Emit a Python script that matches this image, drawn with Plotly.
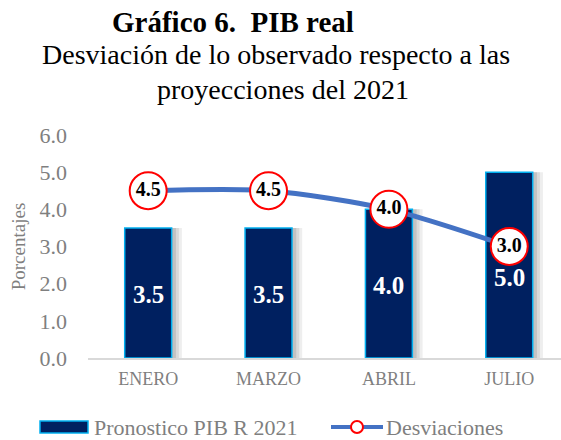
import plotly.graph_objects as go

categories = ["ENERO", "MARZO", "ABRIL", "JULIO"]
pronostico = [3.5, 3.5, 4.0, 5.0]
desviaciones = [4.5, 4.5, 4.0, 3.0]
y_ticks = [0, 1, 2, 3, 4, 5, 6]

FONT = "Liberation Serif, Times New Roman, serif"
GREY = "#7f7f7f"
NAVY = "#002060"
CYAN = "#00B0F0"
BLUE = "#4472C4"

W, H = 561, 440
L, R, T, B = 88, 0, 135, 440 - 358
pw, ph = W - L - R, H - T - B


def px(x):
    return (x - L) / pw


def py(y):
    return (H - B - y) / ph


BW = 0.39
fig = go.Figure()
# soft shadow to the right of each bar
for dx, alpha in [(0.085, 0.10), (0.06, 0.14), (0.035, 0.18)]:
    fig.add_trace(go.Bar(
        x=categories, y=pronostico, width=BW, offset=-BW / 2 + dx,
        marker=dict(color=f"rgba(90,90,90,{alpha})", line=dict(width=0)),
        hoverinfo="skip", showlegend=False,
    ))
fig.add_trace(go.Bar(
    x=categories, y=pronostico, name="Pronostico PIB R 2021",
    width=BW, offset=-BW / 2,
    marker=dict(color=NAVY, line=dict(color=CYAN, width=1.5)),
    showlegend=False,
))
fig.add_trace(go.Scatter(
    x=categories, y=desviaciones, name="Desviaciones",
    mode="lines+markers+text",
    line=dict(color=BLUE, width=5, shape="spline", smoothing=0.8),
    marker=dict(size=37, color="white", line=dict(color="#FF0000", width=2)),
    text=[f"{v:.1f}" for v in desviaciones], textposition="middle center",
    textfont=dict(family=FONT, size=20, color="black", weight="bold"),
    showlegend=False,
))

annotations = []
# bar value labels, centred in each bar (the last nudged below the marker)
for i, (c, v) in enumerate(zip(categories, pronostico)):
    annotations.append(dict(
        text=f"<b>{v:.1f}</b>", x=c, y=v / 2, xref="x", yref="y",
        xanchor="center", yanchor="middle", showarrow=False,
        yshift=-12 if i == len(categories) - 1 else -2,
        font=dict(family=FONT, size=25, color="white"),
    ))

page_ann = [
    dict(text="<b>Gráfico 6.&nbsp; PIB real</b>", x=px(233), y=py(22),
         font=dict(family=FONT, size=29, color="black")),
    dict(text="Desviación de lo observado respecto a las", x=px(276), y=py(54),
         font=dict(family=FONT, size=28, color="black")),
    dict(text="proyecciones del 2021", x=px(283), y=py(89),
         font=dict(family=FONT, size=28, color="black")),
    dict(text="Pronostico PIB R 2021", x=px(92), y=py(427), xanchor="left",
         font=dict(family=FONT, size=22, color=GREY)),
    dict(text="Desviaciones", x=px(384), y=py(427), xanchor="left",
         font=dict(family=FONT, size=22, color=GREY)),
]
for a in page_ann:
    a.setdefault("xanchor", "center")
    a["yanchor"] = "middle"
    a["xref"] = "paper"
    a["yref"] = "paper"
    a["showarrow"] = False
annotations += page_ann

shapes = [
    dict(type="rect", x0=px(40), x1=px(88), y0=py(433), y1=py(421),
         fillcolor=NAVY, line=dict(color=CYAN, width=1.5)),
    dict(type="line", x0=px(331), x1=px(383), y0=py(427), y1=py(427),
         line=dict(color=BLUE, width=4)),
    dict(type="circle", x0=px(351), x1=px(363), y0=py(433), y1=py(421),
         fillcolor="white", line=dict(color="#FF0000", width=2)),
]
for s in shapes:
    s["xref"] = "paper"
    s["yref"] = "paper"

fig.update_layout(
    width=W, height=H,
    margin=dict(l=L, r=R, t=T, b=B, autoexpand=False),
    paper_bgcolor="white", plot_bgcolor="white",
    font=dict(family=FONT, color=GREY),
    showlegend=False, barmode="overlay",
    annotations=annotations,
    shapes=shapes,
)

fig.update_xaxes(
    range=[-0.5, 3.43], showgrid=False, showline=True, linecolor="#d9d9d9", linewidth=1.5,
    tickfont=dict(family=FONT, size=18, color=GREY), ticks="", ticklabelstandoff=4,
)
fig.update_yaxes(
    range=[0, 6], tickvals=y_ticks, ticktext=[f"{v:.1f}" for v in y_ticks],
    showgrid=False, zeroline=False, showline=False,
    tickfont=dict(family=FONT, size=22, color=GREY), ticks="", ticklabelstandoff=20,
    title=dict(text="Porcentajes", font=dict(family=FONT, size=19, color=GREY), standoff=8),
)

fig.write_html(
    "out.html",
    config={"displayModeBar": False},
    post_script="document.body.style.margin='0';document.body.style.overflow='hidden';",
)
